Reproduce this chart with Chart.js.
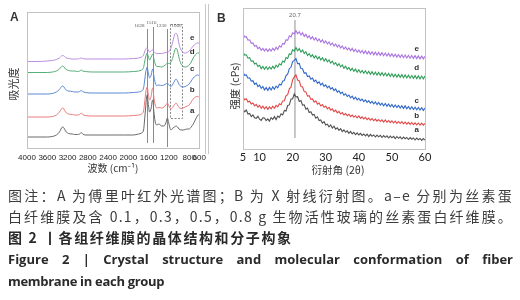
<!DOCTYPE html>
<html lang="zh">
<head>
<meta charset="UTF-8">
<title>图 2 各组纤维膜的晶体结构和分子构象</title>
<script src="https://cdn.jsdelivr.net/npm/chart.js"></script>
<style>
  body { margin: 0; width: 520px; height: 300px; background: #fff; overflow: hidden; position: relative;
         font-family: "Noto Sans CJK SC", "Noto Sans", sans-serif; }
  canvas { position: absolute; top: 0; }
  #chartA { left: 0; }
  #chartB { left: 212px; }
  .sep { position: absolute; top: 4px; height: 150px; border-left: 1px solid #c8c8c8; }
  .tag { position: absolute; font: bold 12px "Liberation Sans", Arial, sans-serif; color: #333; }
  .axt { position: absolute; height: 14px; line-height: 14px; text-align: center; color: #333; white-space: nowrap; }
  .rot { transform: rotate(-90deg); }
  .cap { position: absolute; left: 8px; width: 505px; white-space: nowrap; line-height: 20px; }
  .c1 { font-size: 14px; color: #3c3c3c; letter-spacing: 1.2px; text-align: justify; text-align-last: justify; white-space: normal; }
  .c3 { font-size: 14px; font-weight: bold; color: #2a2a2a; letter-spacing: 1.6px; }
  .c4 { font: bold 13px "Open Sans", sans-serif; color: #2a2a2a; text-align: justify; text-align-last: justify; white-space: normal; }
  .c5 { font: bold 13px "Open Sans", sans-serif; color: #2a2a2a; letter-spacing: -0.3px; }
</style>
</head>
<body>
<canvas id="chartA" width="211" height="175"></canvas>
<div class="sep" style="left:205px"></div>
<div class="sep" style="left:208px"></div>
<canvas id="chartB" width="228" height="175"></canvas>
<div class="tag" style="left:10px; top:10px">A</div>
<div class="tag" style="left:217px; top:11px">B</div>
<div class="axt" style="left:63px; top:161px; width:100px; font-size:10px">波数 (cm⁻¹)</div>
<div class="axt rot" style="left:-17px; top:77px; width:60px; font-size:11px">吸光度</div>
<div class="axt" style="left:288px; top:163px; width:100px; font-size:10.5px">衍射角 (2θ)</div>
<div class="axt rot" style="left:200px; top:79px; width:70px; font-size:10.5px">强度 (cPs)</div>

<div class="cap c1" style="top:185px">图注：A 为傅里叶红外光谱图；B 为 X 射线衍射图。a–e 分别为丝素蛋</div>
<div class="cap c1" style="top:206px">白纤维膜及含 0.1，0.3，0.5，0.8 g 生物活性玻璃的丝素蛋白纤维膜。</div>
<div class="cap c3" style="top:227px">图 2 丨各组纤维膜的晶体结构和分子构象</div>
<div class="cap c4" style="top:250px">Figure 2 | Crystal structure and molecular conformation of fiber</div>
<div class="cap c5" style="top:272px">membrane in each group</div>

<script>
// ---- A: FTIR (wavenumber, cm-1) ----
const ftirWavenumber = [4000, 3800, 3600, 3500, 3420, 3360, 3300, 3270, 3240, 3180, 3100, 3060, 3000, 2960, 2930, 2900, 2850, 2700, 2500, 2300, 2100, 1900, 1800, 1740, 1700, 1680, 1660, 1640, 1628, 1610, 1580, 1550, 1530, 1516, 1500, 1470, 1440, 1400, 1340, 1300, 1260, 1230, 1200, 1160, 1120, 1090, 1060, 1030, 1000, 960, 920, 880, 840, 800, 760, 720, 680, 640, 600];
// absorbance, arbitrary units with stacking offsets
const ftirA = [11, 11, 11, 11.5, 13, 16, 21, 20, 17, 14.5, 14, 13.5, 13.5, 14, 15.5, 14, 13, 13, 13, 13, 13, 13, 14, 15, 18, 28, 40, 51, 53, 45, 36, 40, 47, 48, 38, 26, 23, 24, 22, 22, 25, 30, 24, 18, 20, 21, 22, 21, 19, 18, 18, 18.5, 19, 19, 21, 24, 28, 32, 34];
const ftirB = [31, 31, 31, 31.5, 33, 36, 40, 39, 36, 34, 33.5, 33, 33, 33.5, 35, 33.5, 32.5, 32, 32, 32, 32, 32.5, 33, 34, 37, 45, 54, 60, 61, 55, 48, 52, 59, 60, 52, 43, 40, 40.5, 40, 41, 43, 45, 42, 39, 41, 43.5, 45, 43, 40.5, 39.5, 40, 41, 42, 43, 46, 49, 51, 51.5, 51];
const ftirC = [54, 54, 54, 54.5, 56, 58.5, 62, 61, 58.5, 57, 56.5, 56, 56, 56.5, 57.5, 56.5, 55.5, 55, 55, 55, 55, 55.5, 56, 57, 60, 67, 75, 80, 81, 76, 70, 73, 78, 79, 73, 65, 62.5, 63, 62.5, 63, 64, 65, 63, 61.5, 64, 67, 69, 67, 63.5, 61.5, 61, 61.5, 62.5, 64, 67, 70, 72, 73, 72.5];
const ftirD = [75.5, 75.5, 75.5, 76, 77, 79, 82, 81, 79, 77.5, 77, 77, 76.5, 77, 78, 77, 76.5, 76, 76, 76, 76, 76.5, 77, 78, 80.5, 86, 91, 94, 95, 92, 88, 91, 93.5, 94, 90, 84, 81.5, 81.5, 81, 82, 83.5, 85, 84.5, 86, 91, 97, 100, 97, 90, 84, 81.5, 81, 81.5, 83, 86, 90, 93, 95, 95];
const ftirE = [86.5, 86.5, 87, 87.5, 88.5, 90, 92.5, 92, 90.5, 89.5, 89, 89, 89, 89.5, 90, 89.5, 89, 89, 89, 89, 89, 89.5, 90, 91, 93, 96, 98.5, 100, 100, 98, 96, 97, 98, 98, 96.5, 95, 94.5, 94.5, 94.5, 95, 95.5, 96, 96.5, 100, 107, 113, 115, 112, 104, 98, 95.5, 95, 95.5, 97, 99.5, 102, 104, 105, 105];
const ftirTicks = [4000, 3600, 3200, 2800, 2400, 2000, 1600, 1200, 800, 600];
const ftirPeaks = [1628, 1516, 1230];
const ftirPeakTop = [119, 121, 119];
const ftirPeakBottom = [5, 5, 1];
const ftirNotes = ['1628', '1516', '1230', '1060'];
const ftirNoteWn = [1779, 1543, 1347, 1052];
const ftirNoteY = [122, 125, 122, 122];
const ftirBoxWn = [1170, 935];
const ftirBoxY = [31, 124.5];
const ftirTagWn = 739;
const ftirTagY = [37, 58, 79, 96, 110];

// ---- B: XRD (2theta, degrees) ----
const xrdAngle = [5, 5.5, 6, 6.5, 7, 7.5, 8, 8.5, 9, 9.5, 10, 10.5, 11, 11.5, 12, 12.5, 13, 13.5, 14, 14.5, 15, 15.5, 16, 16.5, 17, 17.5, 18, 18.5, 19, 19.5, 20, 20.5, 21, 21.5, 22, 22.5, 23, 23.5, 24, 24.5, 25, 25.5, 26, 26.5, 27, 27.5, 28, 28.5, 29, 29.5, 30, 30.5, 31, 31.5, 32, 32.5, 33, 33.5, 34, 34.5, 35, 35.5, 36, 36.5, 37, 37.5, 38, 38.5, 39, 39.5, 40, 40.5, 41, 41.5, 42, 42.5, 43, 43.5, 44, 44.5, 45, 45.5, 46, 46.5, 47, 47.5, 48, 48.5, 49, 49.5, 50, 50.5, 51, 51.5, 52, 52.5, 53, 53.5, 54, 54.5, 55, 55.5, 56, 56.5, 57, 57.5, 58, 58.5, 59, 59.5, 60];
const xrdA = [40.2, 37.1, 38.9, 35.0, 35.6, 32.4, 34.1, 31.3, 30.6, 32.7, 29.8, 28.6, 31.2, 31.0, 28.3, 30.1, 27.9, 31.4, 29.6, 32.3, 29.4, 32.9, 31.6, 35.2, 34.1, 38.6, 38.0, 43.5, 44.1, 49.8, 50.2, 55.1, 52.0, 52.3, 47.6, 48.4, 43.9, 44.2, 39.8, 40.9, 36.6, 37.3, 33.9, 34.6, 30.8, 32.2, 28.4, 29.1, 25.8, 27.3, 24.1, 24.9, 22.2, 24.0, 21.0, 22.8, 19.9, 21.2, 18.7, 20.3, 17.4, 19.2, 16.8, 18.1, 15.6, 17.5, 15.1, 16.6, 14.3, 16.2, 14.0, 15.7, 13.6, 15.0, 13.1, 14.9, 12.4, 14.6, 12.8, 14.1, 12.0, 13.9, 12.2, 13.6, 11.5, 13.4, 11.7, 13.1, 11.0, 12.9, 11.2, 12.6, 10.4, 12.5, 10.7, 12.1, 10.0, 11.9, 10.3, 11.6, 9.5, 11.4, 9.8, 11.1, 9.0, 10.9, 9.3, 10.6, 8.6, 10.4, 8.8];
const xrdB = [52.1, 49.3, 50.2, 46.9, 47.8, 45.1, 46.0, 43.2, 44.6, 42.0, 43.7, 40.8, 42.9, 40.2, 42.3, 39.6, 42.0, 40.1, 42.8, 40.7, 43.6, 42.1, 45.3, 44.2, 48.1, 48.3, 53.2, 54.4, 60.1, 61.8, 69.3, 72.1, 74.2, 69.0, 68.1, 62.6, 62.0, 57.4, 57.1, 52.8, 53.3, 49.6, 50.1, 46.9, 48.2, 44.9, 46.0, 43.1, 44.4, 41.8, 43.0, 40.2, 41.6, 38.9, 40.1, 37.4, 38.9, 36.2, 37.6, 35.0, 36.4, 34.1, 35.5, 33.3, 34.7, 32.4, 34.0, 31.9, 33.3, 31.2, 33.0, 30.6, 32.2, 30.0, 31.6, 29.4, 31.0, 28.9, 30.5, 28.4, 29.9, 27.8, 29.5, 27.5, 29.2, 27.0, 29.0, 26.8, 28.5, 26.4, 28.1, 26.0, 27.8, 25.7, 27.5, 25.5, 27.3, 25.1, 27.0, 24.8, 26.7, 24.6, 26.5, 24.3, 26.2, 24.1, 26.0, 23.9, 25.8, 23.8, 25.6];
const xrdC = [77.0, 73.6, 74.1, 70.8, 71.2, 67.9, 68.3, 64.7, 66.0, 62.4, 63.8, 60.6, 62.5, 59.1, 61.4, 58.7, 61.6, 59.0, 62.1, 59.8, 62.9, 61.2, 64.8, 63.9, 67.8, 68.6, 73.4, 74.9, 80.3, 81.7, 87.4, 88.6, 90.5, 85.3, 85.6, 80.4, 80.2, 75.8, 76.3, 72.4, 73.1, 69.8, 70.9, 67.5, 68.9, 65.6, 67.2, 64.0, 65.8, 62.7, 64.1, 61.2, 62.9, 59.9, 61.3, 58.4, 60.0, 56.9, 58.2, 55.4, 56.9, 53.8, 55.2, 52.5, 54.0, 51.2, 52.8, 50.0, 51.9, 49.1, 50.7, 48.3, 49.9, 47.4, 49.1, 46.6, 48.4, 45.8, 47.6, 45.1, 47.0, 44.5, 46.6, 43.9, 45.9, 43.3, 45.6, 42.8, 45.0, 42.3, 44.6, 41.8, 44.1, 41.4, 43.6, 41.0, 43.3, 40.6, 43.1, 40.2, 42.6, 39.8, 42.2, 39.5, 41.8, 39.2, 41.5, 38.9, 41.3, 38.6, 41.0];
const xrdD = [97.1, 93.9, 94.2, 90.8, 91.3, 87.6, 88.2, 84.9, 85.8, 82.6, 83.7, 80.4, 82.6, 79.8, 82.3, 79.5, 82.1, 80.0, 82.7, 80.6, 83.8, 81.9, 85.2, 84.1, 87.9, 86.8, 91.4, 90.5, 95.3, 94.6, 99.4, 97.9, 101.5, 98.2, 100.4, 97.0, 98.9, 95.4, 97.3, 93.6, 95.4, 92.3, 94.2, 91.1, 93.3, 90.0, 92.2, 89.1, 91.3, 88.0, 90.2, 87.2, 89.1, 86.0, 87.8, 84.6, 86.4, 83.3, 85.2, 82.1, 84.0, 80.8, 82.8, 79.7, 81.6, 78.6, 80.7, 77.7, 79.9, 76.9, 79.2, 76.3, 78.6, 75.7, 78.2, 75.2, 77.7, 74.7, 77.3, 74.3, 76.9, 73.9, 76.6, 73.6, 76.3, 73.3, 76.0, 73.0, 75.6, 72.6, 75.2, 72.2, 74.8, 71.9, 74.6, 71.6, 74.3, 71.3, 74.1, 71.0, 73.8, 70.8, 73.5, 70.6, 73.3, 70.4, 73.1, 70.2, 73.0, 70.1, 72.9];
const xrdE = [115.0, 111.9, 112.3, 108.8, 109.2, 105.7, 106.1, 102.8, 103.6, 100.4, 101.6, 98.7, 100.6, 97.9, 100.2, 97.6, 100.1, 98.0, 100.7, 98.5, 101.8, 99.6, 103.2, 101.9, 105.6, 104.8, 109.2, 108.6, 113.1, 112.0, 116.2, 115.1, 118.3, 115.2, 117.3, 114.1, 116.2, 112.6, 114.7, 111.2, 113.3, 110.1, 112.2, 109.0, 111.2, 108.0, 110.1, 107.0, 109.2, 106.0, 108.1, 105.1, 107.0, 104.0, 106.1, 103.0, 105.0, 102.0, 104.1, 101.0, 103.0, 100.0, 102.1, 99.1, 101.0, 98.2, 100.6, 97.5, 99.8, 96.8, 99.1, 96.2, 98.5, 95.6, 98.1, 95.1, 97.6, 94.6, 97.2, 94.2, 96.9, 93.9, 96.6, 93.6, 96.3, 93.3, 96.0, 93.0, 95.6, 92.6, 95.1, 92.2, 94.8, 91.9, 94.5, 91.6, 94.2, 91.3, 94.0, 91.0, 93.7, 90.8, 93.5, 90.6, 93.3, 90.4, 93.1, 90.2, 92.9, 90.1, 92.8];
const xrdTicks = [5, 10, 20, 30, 40, 50, 60];
const xrdPeak = 20.7;
const xrdPeakTop = 129;
const xrdPeakBottom = 11;
const xrdTagAngle = 57.5;
const xrdTagY = [19, 33, 48, 81, 100];

const groupNames = ['a', 'b', 'c', 'd', 'e'];
const colorsA = ['#6a6a6a', '#e97c7c', '#5c88d2', '#55ad78', '#bb8de3'];
const colorsB = ['#505050', '#e24848', '#2f67c9', '#2f9d58', '#a873e0'];

Chart.defaults.font.family = '"Liberation Sans", Arial, sans-serif';
Chart.defaults.color = '#333';

function xy(xs, ys) { return xs.map((x, i) => ({ x: x, y: ys[i] })); }

const framePlugin = {
  id: 'frame',
  afterDatasetsDraw(chart) {
    const { ctx, chartArea: a } = chart;
    ctx.save();
    ctx.strokeStyle = '#c2c2c2';
    ctx.lineWidth = 1;
    ctx.strokeRect(Math.round(a.left) + 0.5, Math.round(a.top) + 0.5, Math.round(a.right - a.left), Math.round(a.bottom - a.top));
    ctx.restore();
  }
};

const ftirMarks = {
  id: 'ftirMarks',
  beforeDatasetsDraw(chart) {
    const { ctx, scales: { x, y } } = chart;
    ctx.save();
    ctx.strokeStyle = '#8a8a8a';
    ctx.lineWidth = 1;
    ftirPeaks.forEach((wn, i) => {
      const px = Math.round(x.getPixelForValue(wn)) + 0.5;
      ctx.beginPath();
      ctx.moveTo(px, y.getPixelForValue(ftirPeakTop[i]));
      ctx.lineTo(px, y.getPixelForValue(ftirPeakBottom[i]));
      ctx.stroke();
    });
    ctx.setLineDash([2, 1.5]);
    ctx.strokeStyle = '#888';
    const x0 = x.getPixelForValue(ftirBoxWn[0]), x1 = x.getPixelForValue(ftirBoxWn[1]);
    const y0 = y.getPixelForValue(ftirBoxY[1]), y1 = y.getPixelForValue(ftirBoxY[0]);
    ctx.strokeRect(Math.round(x0) + 0.5, Math.round(y0) + 0.5, Math.round(x1 - x0), Math.round(y1 - y0));
    ctx.restore();
  },
  afterDatasetsDraw(chart) {
    const { ctx, scales: { x, y } } = chart;
    ctx.save();
    ctx.fillStyle = '#555';
    ctx.font = '5px "Liberation Serif", serif';
    ctx.textAlign = 'center';
    ctx.textBaseline = 'middle';
    ftirNotes.forEach((t, i) => ctx.fillText(t, x.getPixelForValue(ftirNoteWn[i]), y.getPixelForValue(ftirNoteY[i])));
    ctx.fillStyle = '#333';
    ctx.font = 'bold 8px "Liberation Sans", Arial, sans-serif';
    groupNames.forEach((t, i) => ctx.fillText(t, x.getPixelForValue(ftirTagWn), y.getPixelForValue(ftirTagY[i])));
    ctx.restore();
  }
};

const xrdMarks = {
  id: 'xrdMarks',
  beforeDatasetsDraw(chart) {
    const { ctx, scales: { x, y } } = chart;
    ctx.save();
    ctx.strokeStyle = '#b5b5b5';
    ctx.lineWidth = 1.5;
    const px = x.getPixelForValue(xrdPeak);
    ctx.beginPath();
    ctx.moveTo(px, y.getPixelForValue(xrdPeakTop));
    ctx.lineTo(px, y.getPixelForValue(xrdPeakBottom));
    ctx.stroke();
    ctx.fillStyle = '#666';
    ctx.font = '6px "Liberation Sans", Arial, sans-serif';
    ctx.textAlign = 'center';
    ctx.textBaseline = 'middle';
    ctx.fillText(String(xrdPeak), px, y.getPixelForValue(xrdPeakTop + 5));
    ctx.restore();
  },
  afterDatasetsDraw(chart) {
    const { ctx, scales: { x, y } } = chart;
    ctx.save();
    ctx.fillStyle = '#333';
    ctx.font = 'bold 8px "Liberation Sans", Arial, sans-serif';
    ctx.textAlign = 'center';
    ctx.textBaseline = 'middle';
    groupNames.forEach((t, i) => ctx.fillText(t, x.getPixelForValue(xrdTagAngle), y.getPixelForValue(xrdTagY[i])));
    ctx.restore();
  }
};

const noGrid = { display: false, drawTicks: false, tickLength: 0 };

const ftirSeries = [ftirA, ftirB, ftirC, ftirD, ftirE];
new Chart(document.getElementById('chartA'), {
  type: 'line',
  data: {
    datasets: ftirSeries.map((s, i) => ({
      label: groupNames[i], data: xy(ftirWavenumber, s),
      borderColor: colorsA[i], borderWidth: 1, pointRadius: 0, tension: 0.35, cubicInterpolationMode: 'monotone'
    }))
  },
  options: {
    responsive: false, animation: false, devicePixelRatio: 1,
    layout: { autoPadding: false, padding: { top: 12, right: 4, left: 0, bottom: 0 } },
    plugins: { legend: { display: false }, tooltip: { enabled: false } },
    scales: {
      x: {
        type: 'linear', reverse: true, min: 600, max: 4000,
        afterBuildTicks: s => { s.ticks = ftirTicks.map(v => ({ value: v })); },
        afterFit: s => { s.height = 27; },
        grid: noGrid, border: { display: false },
        ticks: { autoSkip: false, maxRotation: 0, minRotation: 0, padding: 5, font: { size: 8 }, color: '#222',
                 callback: v => String(v) }
      },
      y: {
        min: 0, max: 136,
        afterFit: s => { s.width = 27; },
        grid: noGrid, border: { display: false },
        ticks: { display: false }
      }
    }
  },
  plugins: [framePlugin, ftirMarks]
});

const xrdSeries = [xrdA, xrdB, xrdC, xrdD, xrdE];
new Chart(document.getElementById('chartB'), {
  type: 'line',
  data: {
    datasets: xrdSeries.map((s, i) => ({
      label: groupNames[i], data: xy(xrdAngle, s),
      borderColor: colorsB[i], borderWidth: 1.1, pointRadius: 0, tension: 0
    }))
  },
  options: {
    responsive: false, animation: false, devicePixelRatio: 1,
    layout: { autoPadding: false, padding: { top: 8, right: 15, left: 0, bottom: 0 } },
    plugins: { legend: { display: false }, tooltip: { enabled: false } },
    scales: {
      x: {
        type: 'linear', min: 5, max: 60,
        afterBuildTicks: s => { s.ticks = xrdTicks.map(v => ({ value: v })); },
        afterFit: s => { s.height = 26; },
        grid: noGrid, border: { display: false },
        ticks: { autoSkip: false, maxRotation: 0, padding: 2, font: { size: 11, family: 'Lato, sans-serif' }, color: '#222' }
      },
      y: {
        min: 0, max: 141,
        afterFit: s => { s.width = 31; },
        grid: noGrid, border: { display: false },
        ticks: { display: false }
      }
    }
  },
  plugins: [framePlugin, xrdMarks]
});
</script>
</body>
</html>
